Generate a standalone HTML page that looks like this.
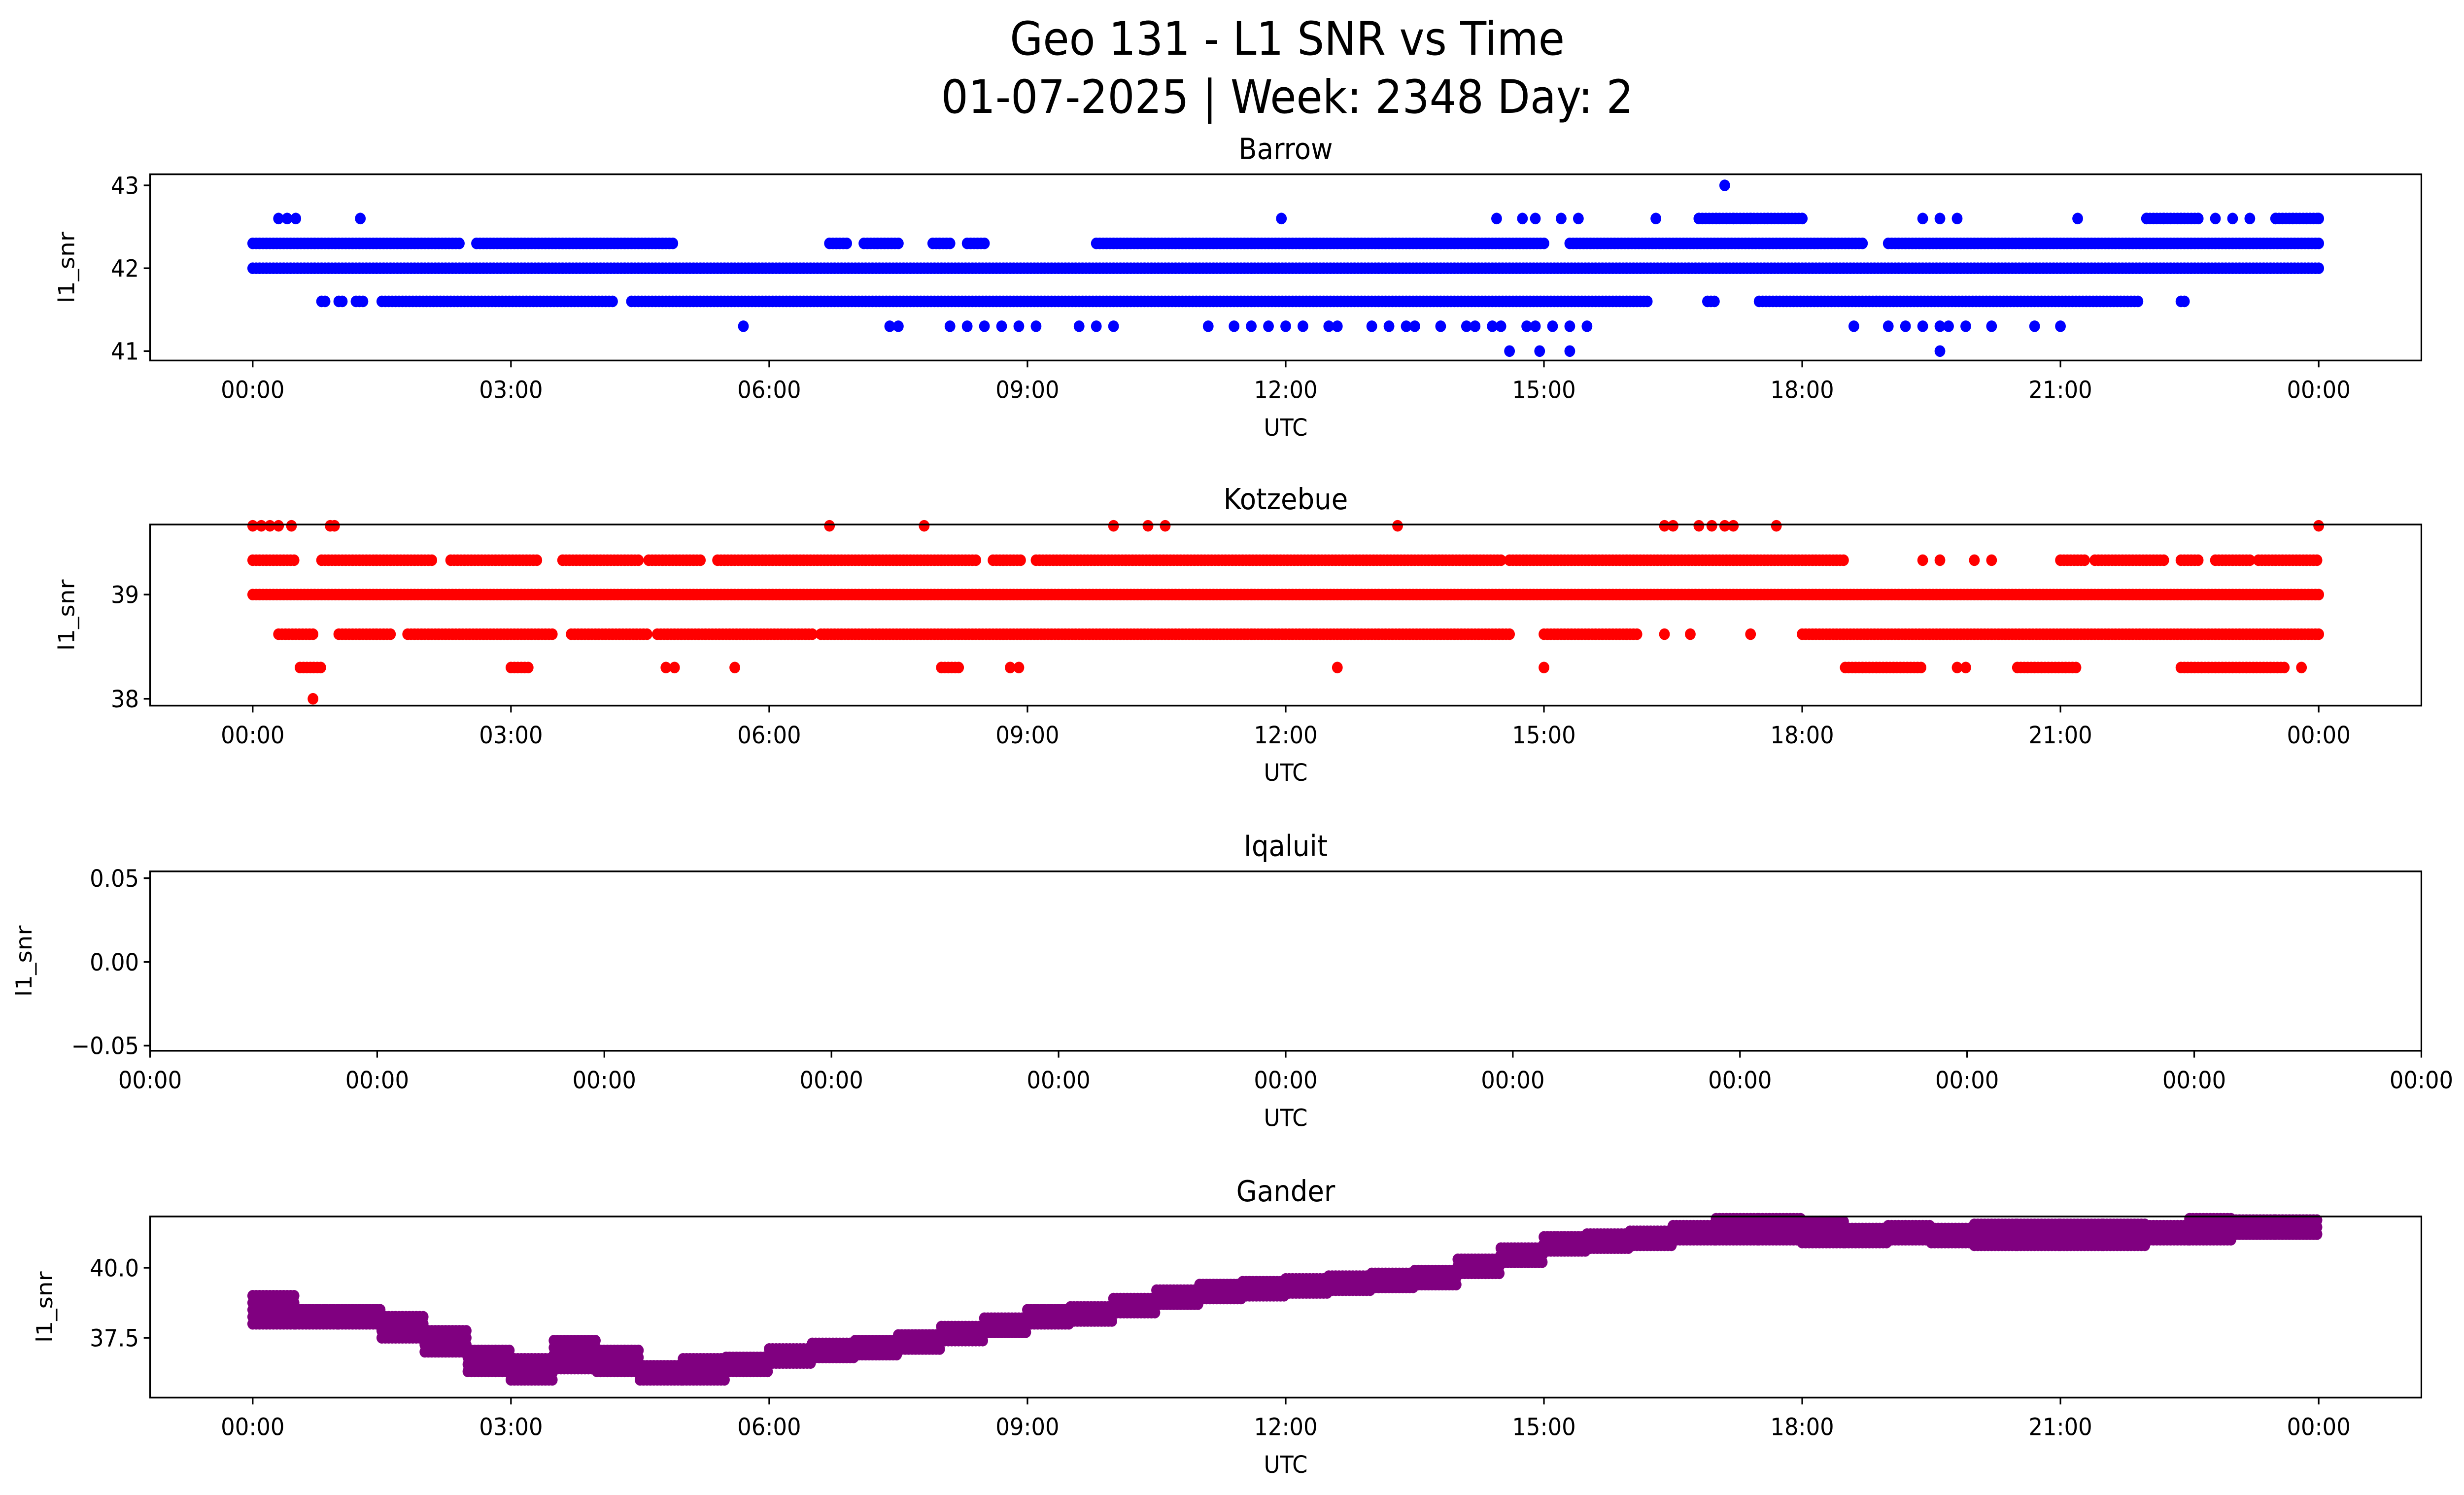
<!DOCTYPE html>
<html><head><meta charset="utf-8"><style>
html,body{margin:0;padding:0;background:#fff;width:100%;height:100%;overflow:hidden}
svg{display:block;position:fixed;left:0;top:0;width:100vw;height:100vh}
text{font-family:"DejaVu Sans","Liberation Sans",sans-serif;fill:#000}
</style></head><body>
<svg id="chart" viewBox="0 0 1560 875" preserveAspectRatio="none" xmlns="http://www.w3.org/2000/svg">
<rect width="1560" height="875" fill="#fff"/>
<text x="815" y="32" font-size="27" text-anchor="middle">Geo 131 - L1 SNR vs Time</text>
<text x="815" y="66" font-size="27" text-anchor="middle">01-07-2025 | Week: 2348 Day: 2</text>
</svg>
<script>
// ---- data (hours UTC, SNR values) ----
const xTickHours = [0,3,6,9,12,15,18,21,24];
const xTickLabels = ["00:00","03:00","06:00","09:00","12:00","15:00","18:00","21:00","00:00"];
const barrowLevels = [42.0, 42.3, 41.6];
const barrowRanges = [
  [[0,24]],
  [[0,2.4],[2.6,4.9],[6.7,6.9],[7.1,7.5],[7.9,8.1],[8.3,8.5],[9.8,15],[15.3,18.7],[19.0,24]],
  [[0.8,0.85],[1.0,1.05],[1.2,1.3],[1.5,4.2],[4.4,16.2],[16.9,17.0],[17.5,21.9],[22.4,22.45]]
];
const barrowPointsH = [0.3,0.4,0.5,1.25,11.95,14.45,14.75,14.9,15.2,15.4,16.3,16.8,17.0,17.2,17.4,17.6,17.8,18.0,19.4,19.6,19.8,21.2,22.0,22.2,22.4,22.6,22.8,23.0,23.2,23.5,23.7,23.9,24,
  5.7,7.4,7.5,8.1,8.3,8.5,8.7,8.9,9.1,9.6,9.8,10.0,11.1,11.4,11.6,11.8,12.0,12.2,12.5,12.6,13.0,13.2,13.4,13.5,13.8,14.1,14.2,14.4,14.5,14.8,14.9,15.1,15.3,15.5,18.6,19.0,19.2,19.4,19.6,19.7,19.9,20.2,20.7,21.0,
  14.6,14.95,15.3,19.6,17.1];
const barrowPointsV = [42.6,42.6,42.6,42.6,42.6,42.6,42.6,42.6,42.6,42.6,42.6,42.6,42.6,42.6,42.6,42.6,42.6,42.6,42.6,42.6,42.6,42.6,42.6,42.6,42.6,42.6,42.6,42.6,42.6,42.6,42.6,42.6,42.6,
  41.3,41.3,41.3,41.3,41.3,41.3,41.3,41.3,41.3,41.3,41.3,41.3,41.3,41.3,41.3,41.3,41.3,41.3,41.3,41.3,41.3,41.3,41.3,41.3,41.3,41.3,41.3,41.3,41.3,41.3,41.3,41.3,41.3,41.3,41.3,41.3,41.3,41.3,41.3,41.3,41.3,41.3,41.3,41.3,
  41.0,41.0,41.0,41.0,43.0];
const barrowBandsH = [[16.8,18.0],[22.0,22.6],[23.5,24]];
const barrowBandsV = [42.6,42.6,42.6];
const kotzLevels = [39.0, 39.33, 38.62, 38.3];
const kotzRanges = [
  [[0,24]],
  [[0,0.5],[0.8,2.1],[2.3,3.3],[3.6,4.5],[4.6,5.2],[5.4,8.4],[8.6,8.95],[9.1,14.5],[14.6,18.5],[21.0,21.3],[21.4,22.2],[22.4,22.6],[22.8,23.2],[23.3,24]],
  [[0.3,0.7],[1.0,1.6],[1.8,3.5],[3.7,4.6],[4.7,6.5],[6.6,14.6],[15.0,16.1],[18.0,24]],
  [[0.55,0.8],[3.0,3.2],[8.0,8.2],[18.5,19.4],[20.5,21.2],[22.4,23.6]]
];
const kotzPointsH = [0.0,0.1,0.2,0.3,0.45,0.9,0.95,6.7,7.8,10.0,10.4,10.6,13.3,16.4,16.5,16.8,16.95,17.1,17.2,17.7,24,
  19.4,19.6,20.0,20.2, 16.4,16.7,17.4, 4.8,4.9,5.6,8.8,8.9,12.6,15.0,19.8,19.9,23.8, 0.7];
const kotzPointsV = [39.66,39.66,39.66,39.66,39.66,39.66,39.66,39.66,39.66,39.66,39.66,39.66,39.66,39.66,39.66,39.66,39.66,39.66,39.66,39.66,39.66,
  39.33,39.33,39.33,39.33, 38.62,38.62,38.62, 38.3,38.3,38.3,38.3,38.3,38.3,38.3,38.3,38.3,38.3, 38.0];
// Gander: half-hourly min / max envelope (48 entries)
const ganderLo = [38.0,38.0,38.0,37.5,37.0,36.3,36.0,36.4,36.3,36.0,36.0,36.3,36.6,36.8,36.9,37.1,37.4,37.7,38.0,38.1,38.4,38.7,38.9,39.0,39.1,39.2,39.3,39.4,39.8,40.2,40.6,40.7,40.8,41.0,41.0,41.0,40.9,40.9,41.0,40.9,40.8,40.8,40.8,40.8,41.0,41.0,41.2,41.2];
const ganderHi = [39.0,38.7,38.6,38.3,37.8,37.2,36.8,37.5,37.2,36.7,36.8,37.0,37.2,37.4,37.6,37.8,38.0,38.3,38.5,38.6,39.0,39.2,39.4,39.6,39.7,39.8,39.9,40.0,40.4,40.9,41.3,41.4,41.5,41.7,41.8,41.8,41.7,41.6,41.6,41.6,41.6,41.6,41.6,41.6,41.7,41.8,41.8,41.8];

// ---- layout ----
const NS = "http://www.w3.org/2000/svg";
const svg = document.getElementById("chart");
const AX_L = 95, AX_R = 1533;
const X0 = 160, X24 = 1468;
function xs(h){ return X0 + (X24 - X0) * h / 24; }
function mk(tag, attrs, parent){ const e = document.createElementNS(NS, tag); for (const k in attrs) e.setAttribute(k, attrs[k]); (parent||svg).appendChild(e); return e; }

function panel(name, top, bot, yScale, yTicks, yTickLabels, title, ylabX, color, xticks){
  const g = mk("g", {});
  
  
  const t = mk("text", {x: (AX_L+AX_R)/2, y: top-9, "font-size": 17, "text-anchor":"middle"}, g);
  t.textContent = title;
  
  
  const pts = mk("g", {fill: color}, g);
  
  
  const box = mk("rect", {x: AX_L, y: top, width: AX_R-AX_L, height: bot-top, fill: "none", stroke: "#000", "stroke-width": 1}, g);
  
  
  yTicks.forEach((v,i)=>{
    const y = yScale(v);
    mk("line", {x1: AX_L-4, x2: AX_L, y1: y, y2: y, stroke: "#000"}, g);
    const tl = mk("text", {x: AX_L-7, y: y+5, "font-size": 14, "text-anchor": "end"}, g);
    tl.textContent = yTickLabels[i];
    
    
  });
  xticks.forEach(tk=>{
    mk("line", {x1: tk[0], x2: tk[0], y1: bot, y2: bot+4, stroke: "#000"}, g);
    const tl = mk("text", {x: tk[0], y: bot+22, "font-size": 14, "text-anchor": "middle"}, g);
    tl.textContent = tk[1];
    
    
  });
  const xl = mk("text", {x: (AX_L+AX_R)/2, y: bot+44, "font-size": 14, "text-anchor": "middle"}, g);
  xl.textContent = "UTC";
  
  
  const cy = (top+bot)/2;
  const yl = mk("text", {x: ylabX, y: cy, "font-size": 14, "text-anchor": "middle", transform: `rotate(-90 ${ylabX} ${cy})`}, g);
  yl.textContent = "l1_snr";
  
  
  return pts;
}
function dot(p, h, v, ys){
  const c = mk("circle", {cx: xs(h).toFixed(2), cy: ys(v).toFixed(2), r: 3.4}, p);
  
  
}
function drawRange(p, a, b, v, ys){ for (let h=a; h<=b+1e-9; h+=0.04) dot(p, h, v, ys); }
const hourTicks = xTickHours.map((h,i)=>[xs(h), xTickLabels[i]]);

const yB = v => 157 - (v-42)*48.5;
const pB = panel("barrow", 102, 211, yB, [41,42,43], ["41","42","43"], "Barrow", 47, "#0000ff", hourTicks);
barrowLevels.forEach((lv,i)=>barrowRanges[i].forEach(r=>drawRange(pB, r[0], r[1], lv, yB)));
barrowBandsH.forEach((r,i)=>drawRange(pB, r[0], r[1], barrowBandsV[i], yB));
barrowPointsH.forEach((h,i)=>dot(pB, h, barrowPointsV[i], yB));

const yK = v => 348 - (v-39)*61;
const pK = panel("kotzebue", 307, 413, yK, [38,39], ["38","39"], "Kotzebue", 47, "#ff0000", hourTicks);
kotzLevels.forEach((lv,i)=>kotzRanges[i].forEach(r=>drawRange(pK, r[0], r[1], lv, yK)));
kotzPointsH.forEach((h,i)=>dot(pK, h, kotzPointsV[i], yK));

const yI = v => 563 - v*980;
const iqTicks = []; for (let i=0;i<=10;i++) iqTicks.push([AX_L + (AX_R-AX_L)*i/10, "00:00"]);
panel("iqaluit", 510, 615, yI, [-0.05,0,0.05], ["\u22120.05","0.00","0.05"], "Iqaluit", 20, "#800080", iqTicks);

const yG = v => 742 - (v-40)*16.4;
const pG = panel("gander", 712, 818, yG, [37.5,40], ["37.5","40.0"], "Gander", 33, "#800080", hourTicks);
const gStep = 24 / ganderLo.length;
ganderLo.forEach((lo,i)=>{
  const hi = ganderHi[i];
  for (let v=lo; v<=hi+1e-9; v+=0.25) drawRange(pG, i*gStep, (i+1)*gStep, v, yG);
});
</script>
</body></html>
